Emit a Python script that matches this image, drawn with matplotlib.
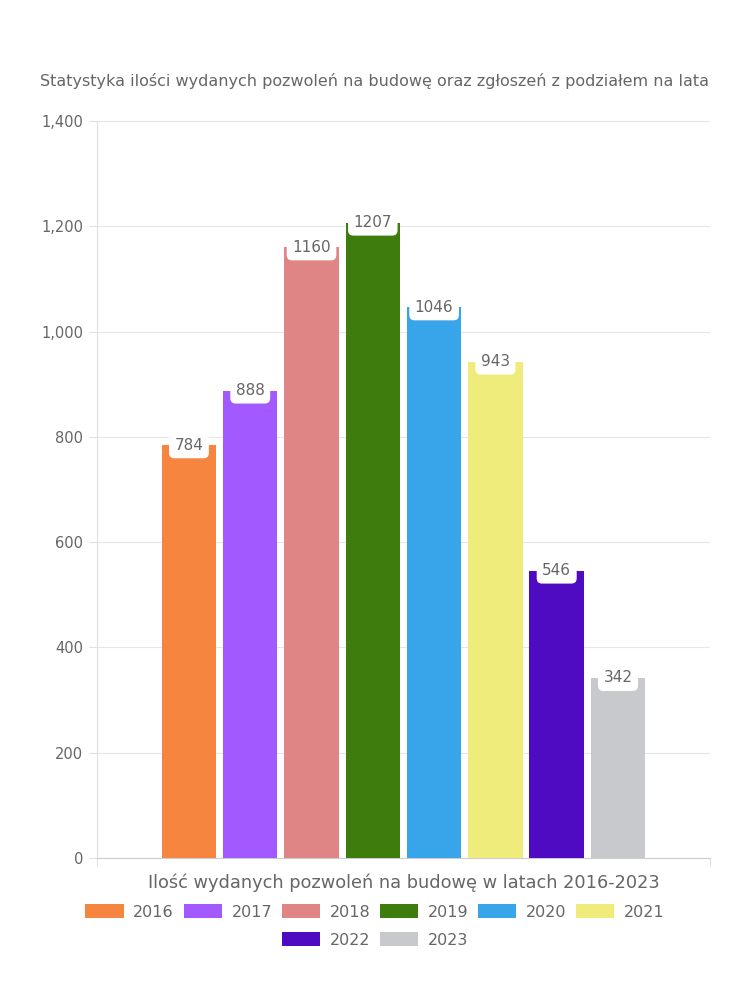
import numpy as np
import matplotlib.pyplot as plt
from matplotlib.patches import Patch

# Dane z wykresu
lata = ['2016', '2017', '2018', '2019', '2020', '2021', '2022', '2023']
pozwolenia = [784, 888, 1160, 1207, 1046, 943, 546, 342]
kolory = ['#F5853F', '#A259FF', '#E08585', '#3E7C0D', '#38A4EA', '#F0EC7C', '#4F0BC2', '#C8C9CC']

plt.rcParams['font.family'] = ['DejaVu Sans']
szary = '#666666'

fig = plt.figure(figsize=(7.5, 10), dpi=100)
ax = fig.add_axes([0.1293, 0.142, 0.8173, 0.737])

# Pozycje slupkow wokol srodka osi
krok = 0.1
szer = 0.089
pozycje = 0.5 + (np.arange(len(lata)) - (len(lata) - 1) / 2) * krok

barras = ax.bar(pozycje, pozwolenia, width=szer, color=kolory, zorder=3)

# Etykiety wartosci w bialych ramkach
for barra, wartosc in zip(barras, pozwolenia):
    ax.text(barra.get_x() + barra.get_width() / 2, wartosc, str(wartosc),
            ha='center', va='center', fontsize=11, color=szary, zorder=4,
            bbox=dict(boxstyle='round,pad=0.36,rounding_size=0.35', fc='white', ec='none'))

ax.set_xlim(0, 1)
ax.set_ylim(0, 1400)
ax.set_yticks(range(0, 1401, 200))
ax.set_yticklabels([f'{v:,}' for v in range(0, 1401, 200)])
ax.set_xticks([0, 1])
ax.set_xticklabels(['', ''])
ax.tick_params(axis='y', colors='#e0e0e0', labelcolor=szary, labelsize=10.5, length=6, pad=4)
ax.tick_params(axis='x', colors='#e0e0e0', length=6)

ax.grid(True, color='#e6e6e6', linewidth=0.8, zorder=0)
for s in ['top', 'right']:
    ax.spines[s].set_visible(False)
ax.spines['left'].set_color('#e0e0e0')
ax.spines['bottom'].set_color('#cccccc')

ax.set_xlabel('Ilość wydanych pozwoleń na budowę w latach 2016-2023', fontsize=12.75,
              color=szary, labelpad=2)

fig.text(0.5, 0.919, 'Statystyka ilości wydanych pozwoleń na budowę oraz zgłoszeń z podziałem na lata',
         ha='center', va='center', fontsize=11.5, color=szary)

# Legenda w dwoch wierszach
uchwyty = [Patch(facecolor=c, edgecolor='none') for c in kolory]
opcje = dict(loc='center', frameon=False, fontsize=11.5, handlelength=2.4, handleheight=1.0,
             columnspacing=0.6, handletextpad=0.6, labelcolor=szary)
fig.legend(uchwyty[:6], lata[:6], bbox_to_anchor=(0.5, 0.088), ncol=6, **opcje)
fig.legend(uchwyty[6:], lata[6:], bbox_to_anchor=(0.5, 0.06), ncol=2, **opcje)

plt.savefig('out.png', dpi=100)
plt.close()
